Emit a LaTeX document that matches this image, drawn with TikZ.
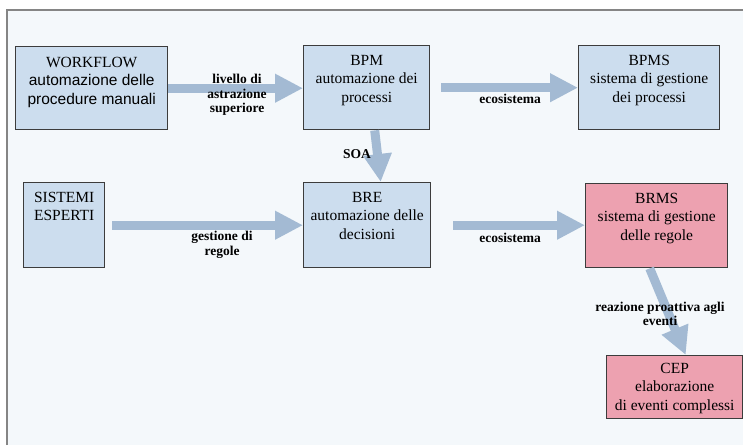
\documentclass[tikz,border=0pt]{standalone}
\usepackage{fontspec}
\setmainfont{Liberation Serif}
\newfontfamily\arialfont{Liberation Sans}
\usetikzlibrary{arrows.meta}
\definecolor{pagebg}{HTML}{F4F8FB}
\definecolor{boxblue}{HTML}{CCDDEE}
\definecolor{boxpink}{HTML}{EDA1B0}
\definecolor{flowblue}{HTML}{A3BAD3}
\definecolor{boxedge}{HTML}{3C3C3C}
\definecolor{framegray}{HTML}{858585}
\begin{document}
\begin{tikzpicture}[x=1pt,y=-1pt,
  box/.style={draw=boxedge, line width=1.4pt, inner sep=0pt, anchor=north west},
  bluebox/.style={box, fill=boxblue},
  pinkbox/.style={box, fill=boxpink},
  boxtext/.style={anchor=north, align=center, inner sep=0pt,
    font=\fontsize{15.5}{18.5}\selectfont},
  flow/.style={draw=flowblue, line width=9pt,
    -{Triangle[length=28pt,width=27pt]}},
  tag/.style={align=center, inner sep=0pt,
    font=\fontsize{13.5}{14.5}\selectfont\bfseries}]
\useasboundingbox (0,0) rectangle (743,445);

% page frame
\fill[pagebg] (7,10) rectangle (743,445);
\draw[framegray, line width=2pt] (7,445) -- (7,10) -- (743,10);

% boxes
\node[bluebox, minimum width=152pt, minimum height=83pt] (wf) at (15,46) {};
\node[bluebox, minimum width=126pt, minimum height=84pt] (bpm) at (303,45) {};
\node[bluebox, minimum width=141pt, minimum height=84pt] (bpms) at (578,45) {};
\node[bluebox, minimum width=81pt, minimum height=85pt] (se) at (23,182) {};
\node[bluebox, minimum width=127pt, minimum height=85pt] (bre) at (303,182) {};
\node[pinkbox, minimum width=142pt, minimum height=84pt] (brms) at (585,183) {};
\node[pinkbox, minimum width=136pt, minimum height=63pt] (cep) at (606,355) {};

% box captions
\node[boxtext, yshift=-11pt] (wft) at (wf.north)
  {WORKFLOW\\{\arialfont automazione delle}\\{\arialfont procedure manuali}};
\node[boxtext, yshift=-10pt] (bpmt) at (bpm.north) {BPM\\automazione dei\\processi};
\node[boxtext, yshift=-10pt] (bpmst) at (bpms.north) {BPMS\\sistema di gestione\\dei processi};
\node[boxtext, yshift=-10pt] (set) at (se.north) {SISTEMI\\ESPERTI};
\node[boxtext, yshift=-10pt] (bret) at (bre.north) {BRE\\automazione delle\\decisioni};
\node[boxtext, yshift=-10pt] (brmst) at (brms.north) {BRMS\\sistema di gestione\\delle regole};
\node[boxtext, yshift=-8pt] (cept) at (cep.north) {CEP\\elaborazione\\di eventi complessi};

% connectors
\draw[flow] (wf.east) -- (wf.east -| bpm.west);
\draw[flow, shorten <=11pt] (bpm.east) -- (bpm.east -| bpms.west);
\draw[flow, shorten <=7pt] (se.east) -- (se.east -| bre.west);
\draw[flow, shorten <=22pt] (bre.east) -- (bre.east -| brms.west);
\draw[flow] ([xshift=8pt]bpm.south) -- ([xshift=13.5pt]bre.north);
\draw[flow] ([xshift=-7pt]brms.south) -- ([xshift=11pt]cep.north);

% connector labels
\node[tag] (l1) at (237,95) {livello di\\astrazione\\superiore};
\node[tag] (l2) at (510,99) {ecosistema};
\node[tag] (l3) at (357,154) {SOA};
\node[tag] (l4) at (222,245) {gestione di\\regole};
\node[tag] (l5) at (510,238) {ecosistema};
\node[tag] (l6) at (660,314) {reazione proattiva agli\\eventi};
\end{tikzpicture}
\end{document}
